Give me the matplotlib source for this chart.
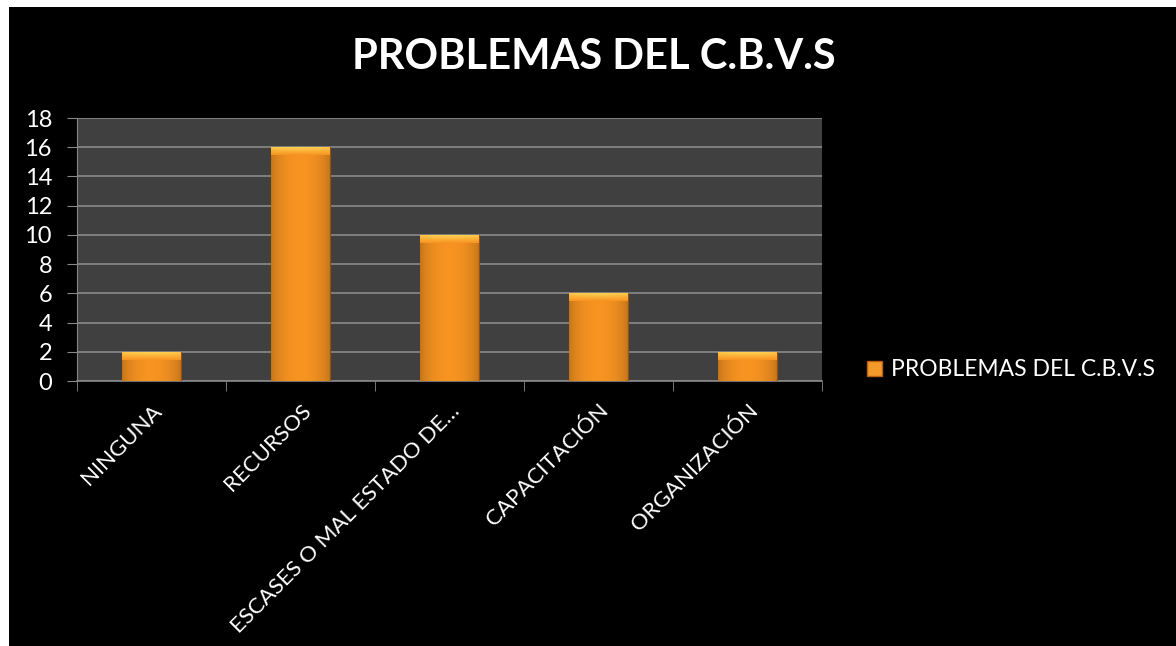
import matplotlib.pyplot as plt
import numpy as np
from matplotlib.patches import Rectangle

# data
categorias = ["NINGUNA", "RECURSOS", "ESCASES O MAL ESTADO DE…", "CAPACITACIÓN", "ORGANIZACIÓN"]
valores = [2, 16, 10, 6, 2]
serie = "PROBLEMAS DEL C.B.V.S"
titulo = "PROBLEMAS DEL C.B.V.S"
yticks = [0, 2, 4, 6, 8, 10, 12, 14, 16, 18]

plt.rcParams['font.family'] = ['Lato', 'DejaVu Sans']

fig = plt.figure(figsize=(11.76, 6.46), dpi=100, facecolor='white')
# black chart background with a thin white margin on the top and left
fig.patches.append(Rectangle((9/1176, 0), 1, 1 - 7/646, transform=fig.transFigure,
                             facecolor='black', edgecolor='none', zorder=-5))

ax = fig.add_axes([77/1176, 1 - 381/646, (822 - 77)/1176, (381 - 118)/646])
ax.set_facecolor('#404040')

x = np.arange(len(categorias))
bars = ax.bar(x, valores, width=0.39, color='#F28A1E', edgecolor='#9A4E08',
              linewidth=0.8, zorder=3, label=serie)

# horizontal shading + top highlight for each bar
cols = np.linspace(0, 1, 60)
shade = 0.78 + 0.22 * np.sin(np.pi * cols) ** 0.6
base = np.array([0.97, 0.58, 0.13])
img = np.clip(shade[None, :, None] * base[None, None, :], 0, 1)
hl = np.array([1.0, 0.85, 0.35])
for b in bars:
    x0, w, h = b.get_x(), b.get_width(), b.get_height()
    im = ax.imshow(img, extent=(x0, x0 + w, 0, h), aspect='auto', zorder=3.1,
                   interpolation='bilinear')
    im.set_clip_path(b)
    band = np.linspace(0, 1, 20)[:, None]
    top = base + (hl - base) * (1 - band[..., None]) * shade[None, :, None]
    top = np.clip(top * np.ones((20, 60, 3)), 0, 1)
    im2 = ax.imshow(top, extent=(x0, x0 + w, h - 0.55, h), aspect='auto', zorder=3.2,
                    interpolation='bilinear', origin='upper')
    im2.set_clip_path(b)

ax.set_xlim(-0.5, len(categorias) - 0.5)
ax.set_ylim(0, 18)
ax.set_yticks(yticks)
ax.set_xticks(np.arange(len(categorias) + 1) - 0.5, minor=True)
ax.set_xticks(x)
ax.set_xticklabels(categorias, rotation=45, ha='right', rotation_mode='anchor')
ax.tick_params(axis='x', which='major', length=0, pad=14, colors='white', labelsize=16)
ax.tick_params(axis='x', which='minor', length=7, color='#888888')
ax.tick_params(axis='y', length=7, color='#888888', colors='white', labelsize=17, pad=11)
for lab in ax.get_yticklabels() + ax.get_xticklabels():
    lab.set_color('white')

ax.yaxis.grid(True, color='#8a8a8a', linewidth=1.2, zorder=1)
ax.set_axisbelow(True)
for s in ['top', 'right']:
    ax.spines[s].set_visible(False)
ax.spines['left'].set_color('#888888')
ax.spines['bottom'].set_color('#888888')
ax.spines['bottom'].set_linewidth(1.2)

fig.text(594/1176, 1 - 57/646, titulo, ha='center', va='center', color='white',
         fontsize=30, fontweight='bold')

fig.legend(handles=[Rectangle((0, 0), 1, 1, facecolor='#F39A2A', edgecolor='#B86010')],
           labels=[serie], loc='center left', bbox_to_anchor=(846/1176, 1 - 370/646),
           frameon=False, fontsize=16.5, labelcolor='white', handlelength=0.65,
           handleheight=0.65, handletextpad=0.4)

fig.savefig('out.png', dpi=100, facecolor=fig.get_facecolor())
